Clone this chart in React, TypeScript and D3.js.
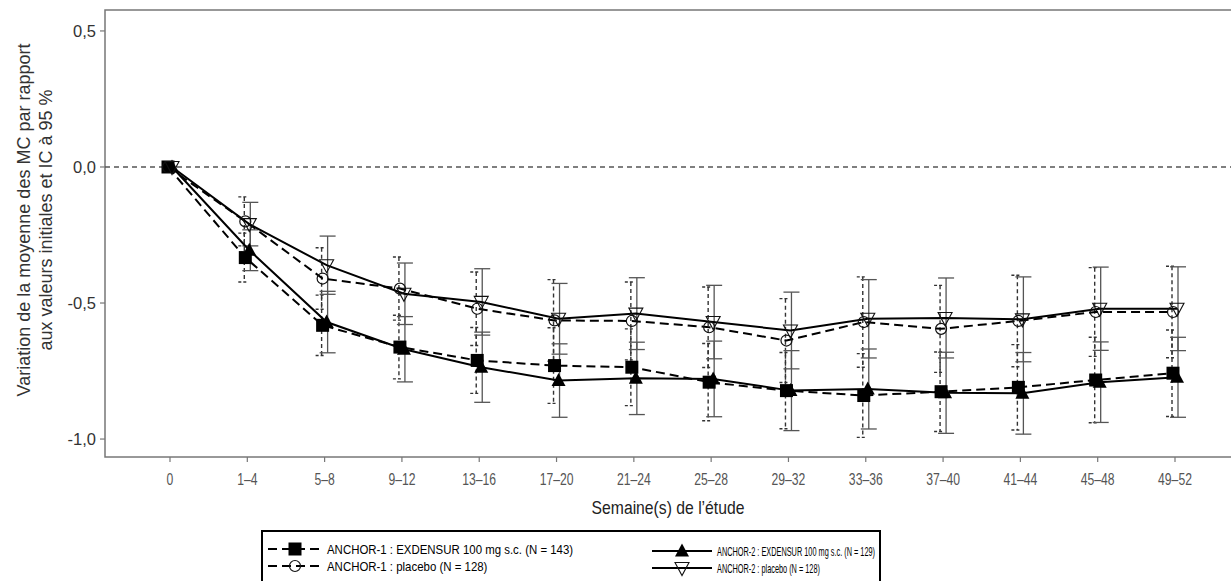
import React from "react";
import * as d3 from "d3";

const categories = ["0", "1–4", "5–8", "9–12", "13–16", "17–20", "21–24", "25–28", "29–32", "33–36", "37–40", "41–44", "45–48", "49–52"];
const yTicks = [0.5, 0.0, -0.5, -1.0];

const a1ExdValues = [0, -0.333, -0.582, -0.662, -0.711, -0.73, -0.736, -0.791, -0.822, -0.84, -0.826, -0.81, -0.783, -0.758];
const a1ExdCI = [0, 0.09, 0.111, 0.117, 0.121, 0.139, 0.141, 0.142, 0.14, 0.154, 0.146, 0.157, 0.157, 0.159];
const a1PboValues = [0, -0.2, -0.41, -0.447, -0.521, -0.564, -0.566, -0.589, -0.638, -0.57, -0.595, -0.566, -0.533, -0.533];
const a1PboCI = [0, 0.09, 0.113, 0.116, 0.135, 0.15, 0.143, 0.148, 0.154, 0.166, 0.16, 0.168, 0.163, 0.168];
const a2ExdValues = [0, -0.306, -0.57, -0.67, -0.736, -0.785, -0.777, -0.779, -0.822, -0.816, -0.83, -0.832, -0.791, -0.773];
const a2ExdCI = [0, 0.075, 0.113, 0.12, 0.129, 0.135, 0.133, 0.139, 0.147, 0.147, 0.149, 0.15, 0.148, 0.147];
const a2PboValues = [0, -0.21, -0.361, -0.466, -0.496, -0.558, -0.539, -0.57, -0.601, -0.558, -0.555, -0.56, -0.521, -0.521];
const a2PboCI = [0, 0.08, 0.107, 0.113, 0.122, 0.13, 0.132, 0.135, 0.141, 0.144, 0.147, 0.156, 0.153, 0.154];

const legendLabels = [
  "ANCHOR-1 : EXDENSUR 100 mg s.c. (N = 143)",
  "ANCHOR-1 : placebo (N = 128)",
  "ANCHOR-2 : EXDENSUR 100 mg s.c. (N = 129)",
  "ANCHOR-2 : placebo (N = 128)",
];

type Marker = "square" | "circle" | "tri" | "itri";
interface Series {
  values: number[];
  ci: number[];
  marker: Marker;
  dashed: boolean;
  offset: number;
}

const series: Series[] = [
  { values: a1ExdValues, ci: a1ExdCI, marker: "square", dashed: true, offset: -2 },
  { values: a1PboValues, ci: a1PboCI, marker: "circle", dashed: true, offset: -2 },
  { values: a2ExdValues, ci: a2ExdCI, marker: "tri", dashed: false, offset: 2 },
  { values: a2PboValues, ci: a2PboCI, marker: "itri", dashed: false, offset: 2 },
];

const W = 1231;
const H = 581;
const plotL = 105;
const plotT = 10;
const plotR = 1233;
const plotB = 457;

const font = "'Liberation Sans', Arial, sans-serif";

function MarkerShape({ kind, x, y }: { kind: Marker; x: number; y: number }) {
  const s = 6.5;
  if (kind === "square") return <rect x={x - s} y={y - s} width={2 * s} height={2 * s} fill="#000" />;
  if (kind === "circle") return <circle cx={x} cy={y} r={5.5} fill="none" stroke="#111" strokeWidth={1.2} />;
  if (kind === "tri") {
    const p = d3.path();
    p.moveTo(x, y - s - 1);
    p.lineTo(x + s + 0.5, y + s - 1);
    p.lineTo(x - s - 0.5, y + s - 1);
    p.closePath();
    return <path d={p.toString()} fill="#000" />;
  }
  const p = d3.path();
  p.moveTo(x - s - 0.5, y - s + 1);
  p.lineTo(x + s + 0.5, y - s + 1);
  p.lineTo(x, y + s + 1);
  p.closePath();
  return <path d={p.toString()} fill="none" stroke="#111" strokeWidth={1.1} />;
}

function NarrowText({ x, y, sx, size, anchor, fill, children }: { x: number; y: number; sx: number; size: number; anchor?: string; fill: string; children: React.ReactNode }) {
  return (
    <g transform={`translate(${x},${y}) scale(${sx},1)`}>
      <text x={0} y={0} textAnchor={anchor || "start"} fontFamily={font} fontSize={size} fill={fill}>
        {children}
      </text>
    </g>
  );
}

export default function App() {
  const x = d3.scalePoint<string>().domain(categories).range([170, 1175]);
  const y = d3.scaleLinear().domain([-1.066, 0.577]).range([plotB, plotT]);
  const fmt = (v: number) => d3.format(".1f")(v).replace(".", ",").replace("−", "-");

  const line = (s: Series) =>
    d3
      .line<number>()
      .x((_, i) => (x(categories[i]) as number) + s.offset)
      .y((v) => y(v))(s.values) as string;

  return (
    <svg width={W} height={H} style={{ position: "absolute", left: 0, top: 0, background: "#fff" }}>
      <rect x={0} y={0} width={W} height={H} fill="#fff" />
      {/* frame */}
      <rect x={plotL} y={plotT} width={plotR - plotL} height={plotB - plotT} fill="none" stroke="#777" strokeWidth={1.5} />
      {/* y ticks */}
      {yTicks.map((t) => (
        <g key={t}>
          <line x1={plotL - 5} x2={plotL} y1={y(t)} y2={y(t)} stroke="#777" strokeWidth={1.2} />
          <text x={plotL - 9} y={y(t) + 6} textAnchor="end" fontFamily={font} fontSize={16.5} fill="#333">
            {fmt(t)}
          </text>
        </g>
      ))}
      {/* x ticks */}
      {categories.map((c) => (
        <g key={c}>
          <line x1={x(c)} x2={x(c)} y1={plotB} y2={plotB + 5} stroke="#777" strokeWidth={1.2} />
          <NarrowText x={x(c) as number} y={485} sx={0.76} size={16} anchor="middle" fill="#555">
            {c}
          </NarrowText>
        </g>
      ))}
      <NarrowText x={668} y={514} sx={0.85} size={18.5} anchor="middle" fill="#222">
        Semaine(s) de l’étude
      </NarrowText>
      <text transform="translate(30,220) rotate(-90)" textAnchor="middle" fontFamily={font} fontSize={18} fill="#333">
        Variation de la moyenne des MC par rapport
      </text>
      <text transform="translate(52,220) rotate(-90)" textAnchor="middle" fontFamily={font} fontSize={18} fill="#333">
        aux valeurs initiales et IC à 95 %
      </text>
      {/* zero reference */}
      <line x1={plotL} x2={W} y1={y(0)} y2={y(0)} stroke="#555" strokeWidth={1.6} strokeDasharray="5,4" />
      {/* error bars */}
      {series.map((s, si) =>
        s.values.map((v, i) => {
          if (s.ci[i] === 0) return null;
          const cx = (x(categories[i]) as number) + s.offset + (s.dashed ? -1 : 1);
          const y1 = y(v + s.ci[i]);
          const y2 = y(v - s.ci[i]);
          if (s.dashed) {
            return (
              <g key={`e${si}-${i}`} stroke="#333" strokeWidth={1.4}>
                <line x1={cx} x2={cx} y1={y1} y2={y2} strokeDasharray="4,3" />
                <line x1={cx - 6} x2={cx + 4} y1={y1} y2={y1} strokeDasharray="3,2" />
                <line x1={cx - 6} x2={cx + 4} y1={y2} y2={y2} strokeDasharray="3,2" />
              </g>
            );
          }
          return (
            <g key={`e${si}-${i}`} stroke="#555" strokeWidth={1.3}>
              <line x1={cx} x2={cx} y1={y1} y2={y2} />
              <line x1={cx - 8} x2={cx + 8} y1={y1} y2={y1} />
              <line x1={cx - 8} x2={cx + 8} y1={y2} y2={y2} />
            </g>
          );
        })
      )}
      {/* lines */}
      {series.map((s, si) => (
        <path
          key={`l${si}`}
          d={line(s)}
          fill="none"
          stroke="#000"
          strokeWidth={2}
          strokeDasharray={s.dashed ? "9,5" : undefined}
        />
      ))}
      {/* markers */}
      {series.map((s, si) =>
        s.values.map((v, i) => (
          <MarkerShape key={`m${si}-${i}`} kind={s.marker} x={(x(categories[i]) as number) + s.offset} y={y(v)} />
        ))
      )}
      {/* legend */}
      <rect x={262} y={531} width={618} height={60} fill="#fff" stroke="#000" strokeWidth={2} />
      {series.map((s, si) => {
        const col = si < 2 ? 0 : 1;
        const row = si % 2;
        const ly = 549 + row * 17 + col * 2;
        const lx1 = col === 0 ? 268 : 652;
        const lx2 = col === 0 ? 322 : 712;
        const tx = col === 0 ? 327 : 717;
        return (
          <g key={`lg${si}`}>
            <line x1={lx1} x2={lx2} y1={ly} y2={ly} stroke="#000" strokeWidth={2} strokeDasharray={s.dashed ? "9,5" : undefined} />
            <MarkerShape kind={s.marker} x={(lx1 + lx2) / 2} y={ly} />
            <NarrowText x={tx} y={ly + 4.5} sx={col === 0 ? 0.88 : 0.565} size={13} fill="#000">
              {legendLabels[si]}
            </NarrowText>
          </g>
        );
      })}
    </svg>
  );
}
